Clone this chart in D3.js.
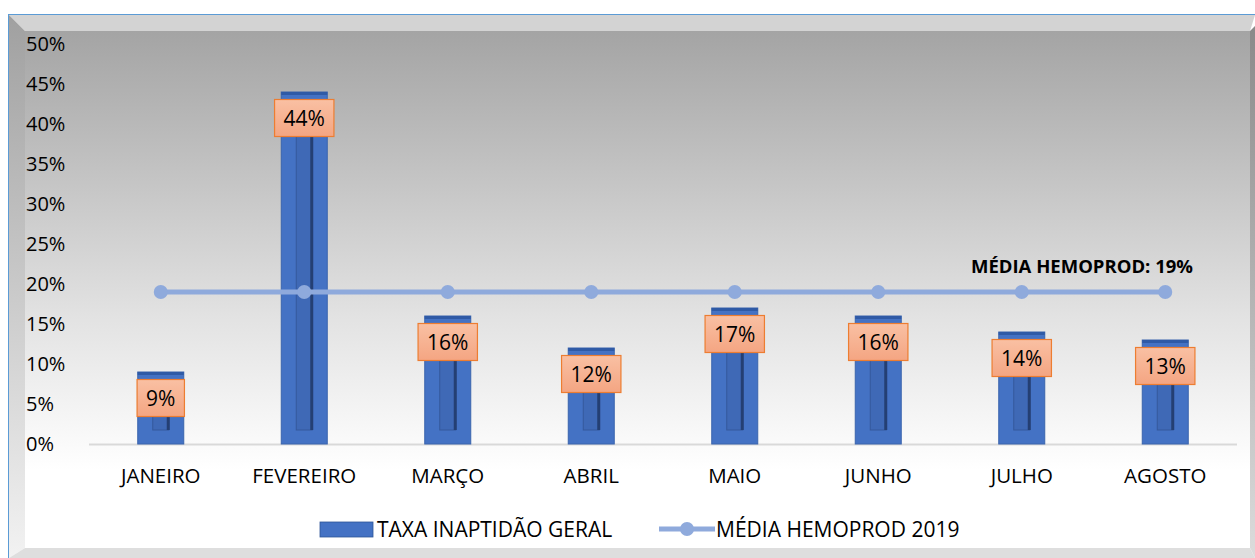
<!DOCTYPE html>
<html><head><meta charset="utf-8">
<script src="https://cdn.jsdelivr.net/npm/d3@7"></script>
<style>body{margin:0;background:#fff}svg{display:block}text{font-family:"Open Sans",sans-serif}</style>
</head><body><svg id="c" width="1255" height="558"></svg>
<script>
const categories = ["JANEIRO","FEVEREIRO","MARÇO","ABRIL","MAIO","JUNHO","JULHO","AGOSTO"];
const taxaInaptidao = [0.09,0.44,0.16,0.12,0.17,0.16,0.14,0.13];
const mediaHemoprod = [0.19,0.19,0.19,0.19,0.19,0.19,0.19,0.19];
const yTicks = [0,0.05,0.10,0.15,0.20,0.25,0.30,0.35,0.40,0.45,0.50];
const seriesNames = ["TAXA INAPTIDÃO GERAL","MÉDIA HEMOPROD 2019"];
const mediaLabel = "MÉDIA HEMOPROD: 19%";

const FONT = "'Open Sans', sans-serif";
const svg = d3.select("#c");
const defs = svg.append("defs");
const bg = defs.append("linearGradient").attr("id","bg").attr("x1",0).attr("y1",0).attr("x2",0).attr("y2",1);
bg.append("stop").attr("offset","0%").attr("stop-color","#a4a4a4");
bg.append("stop").attr("offset","55%").attr("stop-color","#e2e2e2");
bg.append("stop").attr("offset","85%").attr("stop-color","#ffffff");
bg.append("stop").attr("offset","100%").attr("stop-color","#ffffff");
const lb = defs.append("linearGradient").attr("id","lb").attr("x1",0).attr("y1",0).attr("x2",0).attr("y2",1);
lb.append("stop").attr("offset","0%").attr("stop-color","#a0a0a0");
lb.append("stop").attr("offset","100%").attr("stop-color","#f2f2f2");
const rb = defs.append("linearGradient").attr("id","rb").attr("x1",0).attr("y1",0).attr("x2",0).attr("y2",1);
rb.append("stop").attr("offset","0%").attr("stop-color","#8a8a8a");
rb.append("stop").attr("offset","100%").attr("stop-color","#dcdcdc");
const lab = defs.append("linearGradient").attr("id","lab").attr("x1",0).attr("y1",0).attr("x2",0).attr("y2",1);
lab.append("stop").attr("offset","0%").attr("stop-color","#f9c0a3");
lab.append("stop").attr("offset","100%").attr("stop-color","#f4a582");

// frame
svg.append("rect").attr("x",8.5).attr("y",14.5).attr("width",1250).attr("height",550).attr("fill","#fff").attr("stroke","#5b9bd5").attr("stroke-width",1);
svg.append("rect").attr("x",25).attr("y",31).attr("width",1225).attr("height",517).attr("fill","url(#bg)");
svg.append("polygon").attr("points","9,15 1255,15 1250,31 25,31").attr("fill","#d3d3d3");
svg.append("polygon").attr("points","9,15 25,31 25,548 9,558").attr("fill","url(#lb)");
svg.append("polygon").attr("points","1250,31 1255,26 1255,558 1250,548").attr("fill","url(#rb)");
svg.append("polygon").attr("points","25,548 1250,548 1255,558 9,558").attr("fill","#dedede");

const x = d3.scaleBand().domain(categories).range([89,1237]);
const y = d3.scaleLinear().domain([0,0.5]).range([444,44]);
const bw = 46;
const cx = c => x(c)+x.bandwidth()/2;

// y axis
const yAxis = svg.append("g").attr("transform","translate(26,0)")
  .call(d3.axisLeft(y).tickValues(yTicks).tickFormat(d3.format(".0%")).tickSize(0));
yAxis.select(".domain").remove();
yAxis.selectAll("text").attr("x",0).attr("dy","0.34em").attr("text-anchor","start").attr("font-size",20).attr("fill","#000")
  .style("font-family",FONT);

// x axis labels
const xAxis = svg.append("g").attr("transform","translate(0,444)")
  .call(d3.axisBottom(x).tickSize(0));
xAxis.select(".domain").remove();
xAxis.selectAll("text").attr("dy",0).attr("y",39).attr("font-size",20.5).attr("fill","#000")
  .style("font-family",FONT);

// baseline
svg.append("line").attr("x1",89).attr("x2",1237).attr("y1",y(0)+0.5).attr("y2",y(0)+0.5).attr("stroke","#d9d9d9").attr("stroke-width",2);

// bars
const data = categories.map((c,i)=>({c,v:taxaInaptidao[i]}));
const bars = svg.append("g").selectAll("g").data(data).join("g");
bars.append("rect").attr("x",d=>cx(d.c)-bw/2).attr("y",d=>y(d.v)).attr("width",bw).attr("height",d=>y(0)-y(d.v))
  .attr("fill","#4472c4").attr("stroke","#3a64ad").attr("stroke-width",1);
bars.append("rect").attr("x",d=>cx(d.c)-bw/2).attr("y",d=>y(d.v)).attr("width",bw).attr("height",3).attr("fill","#2f5aa6");
bars.append("rect").attr("x",d=>cx(d.c)-8).attr("y",d=>y(d.v)+14).attr("width",16).attr("height",d=>Math.max(0,y(0)-y(d.v)-28))
  .attr("fill","#3f69b6").attr("stroke","#35599c").attr("stroke-width",1);
bars.append("rect").attr("x",d=>cx(d.c)+6).attr("y",d=>y(d.v)+14).attr("width",3).attr("height",d=>Math.max(0,y(0)-y(d.v)-28))
  .attr("fill","#243f73");

// media line
const line = d3.line().x((d,i)=>cx(categories[i])).y(d=>y(d));
svg.append("path").datum(mediaHemoprod).attr("d",line).attr("fill","none").attr("stroke","#8faadc").attr("stroke-width",5);
svg.append("g").selectAll("circle").data(mediaHemoprod).join("circle")
  .attr("cx",(d,i)=>cx(categories[i])).attr("cy",d=>y(d)).attr("r",7).attr("fill","#8faadc");

// data labels
const lg = svg.append("g").selectAll("g").data(data).join("g")
  .attr("transform",d=>`translate(${cx(d.c)},${y(d.v)+26})`);
const rects = lg.append("rect").attr("fill","url(#lab)").attr("stroke","#ed7d31").attr("stroke-width",1.2);
const txts = lg.append("text").attr("text-anchor","middle").attr("dy","0.36em").attr("font-size",21).attr("fill","#000")
  .style("font-family",FONT).text(d=>d3.format(".0%")(d.v));
txts.each(function(d,i){
  const w = this.getComputedTextLength()+18;
  d3.select(rects.nodes()[i]).attr("x",-w/2).attr("y",-18.5).attr("width",w).attr("height",37);
});

// media annotation
svg.append("text").attr("x",1082).attr("y",y(0.19)-19).attr("text-anchor","middle")
  .attr("font-size",18.5).attr("font-weight","bold").attr("fill","#000").style("font-family",FONT).text(mediaLabel);

// legend
const leg = svg.append("g");
leg.append("rect").attr("x",320).attr("y",522).attr("width",53).attr("height",15).attr("fill","#4472c4").attr("stroke","#2f5597").attr("stroke-width",0.8);
leg.append("text").attr("x",377).attr("y",529).attr("dy","0.36em").attr("font-size",21).attr("fill","#000").style("font-family",FONT).text(seriesNames[0]);
leg.append("line").attr("x1",659).attr("x2",715).attr("y1",529).attr("y2",529).attr("stroke","#8faadc").attr("stroke-width",5);
leg.append("circle").attr("cx",687).attr("cy",529).attr("r",7).attr("fill","#8faadc");
leg.append("text").attr("x",716).attr("y",529).attr("dy","0.36em").attr("font-size",21).attr("fill","#000").style("font-family",FONT).text(seriesNames[1]);
</script></body></html>
